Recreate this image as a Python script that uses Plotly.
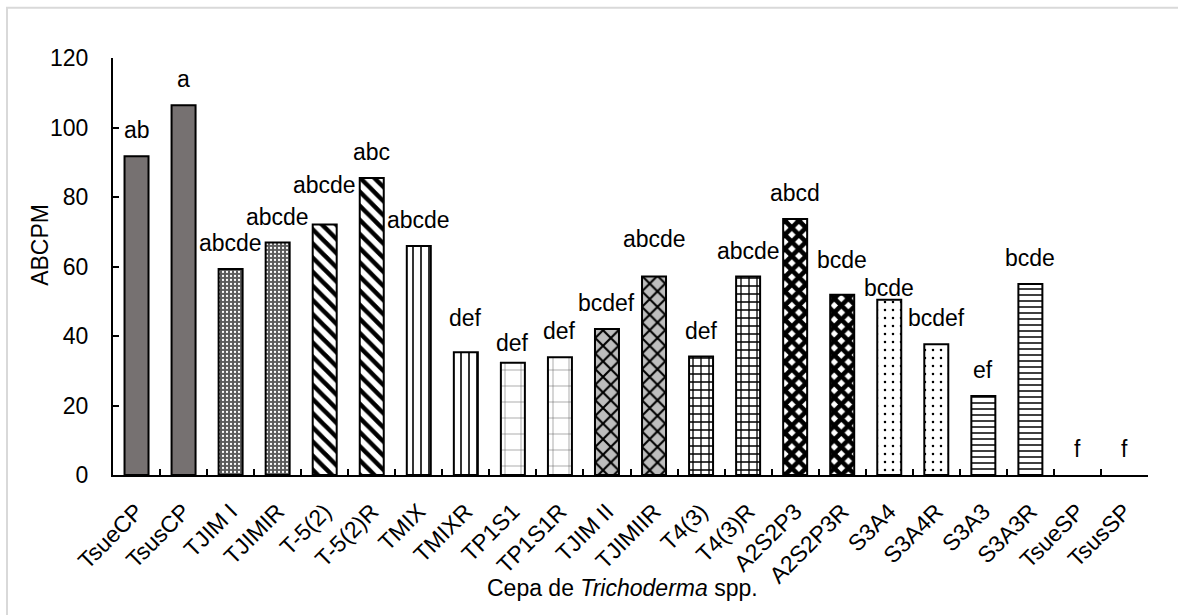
import plotly.graph_objects as go

# Trichoderma strains and their ABCPM values
strains = ["TsueCP", "TsusCP", "TJIM I", "TJIMIR", "T-5(2)", "T-5(2)R", "TMIX", "TMIXR",
           "TP1S1", "TP1S1R", "TJIM II", "TJIMIIR", "T4(3)", "T4(3)R", "A2S2P3", "A2S2P3R",
           "S3A4", "S3A4R", "S3A3", "S3A3R", "TsueSP", "TsusSP"]
abcpm = [91.7, 106.4, 59.3, 66.9, 72.1, 85.5, 65.9, 35.3,
         32.3, 33.9, 42.0, 57.1, 34.1, 57.1, 73.7, 51.9,
         50.4, 37.6, 22.7, 55.0, 0.0, 0.0]
groups = ["ab", "a", "abcde", "abcde", "abcde", "abc", "abcde", "def",
          "def", "def", "bcdef", "abcde", "def", "abcde", "abcd", "bcde",
          "bcde", "bcdef", "ef", "bcde", "f", "f"]

# gap in pixels between bar top and its letter label
label_gap = [17, 17, 17, 17, 30, 17, 17, 25, 11, 17, 17, 29, 17, 17, 17, 26, 3, 17, 17, 17, 17, 17]

FONT = "Liberation Sans, Arial, sans-serif"
FS = 23

# fill styles for each pair of strains
def style(kind):
    if kind == "solid":
        return dict(color="#767171")
    if kind == "stipple":
        return dict(color="#ffffff", pattern=dict(shape=".", bgcolor="#5a5a5a", fgcolor="#ffffff",
                                                  size=4, solidity=0.25, fillmode="replace"))
    if kind == "wdiag":
        return dict(color="#ffffff", pattern=dict(shape="\\", bgcolor="#ffffff", fgcolor="#000000",
                                                  size=10, solidity=0.45, fillmode="replace"))
    if kind == "vert":
        return dict(color="#ffffff", pattern=dict(shape="|", bgcolor="#ffffff", fgcolor="#000000",
                                                  size=8, solidity=0.2, fillmode="replace"))
    if kind == "dgrid":
        return dict(color="#ffffff", pattern=dict(shape="+", bgcolor="#ffffff", fgcolor="#555555",
                                                  size=16, solidity=0.06, fillmode="replace"))
    if kind == "check":
        return dict(color="#ffffff", pattern=dict(shape="x", bgcolor="#bdbdbd", fgcolor="#000000",
                                                  size=11, solidity=0.35, fillmode="replace"))
    if kind == "brick":
        return dict(color="#ffffff", pattern=dict(shape="+", bgcolor="#ffffff", fgcolor="#000000",
                                                  size=8, solidity=0.3, fillmode="replace"))
    if kind == "diamond":
        return dict(color="#ffffff", pattern=dict(shape="x", bgcolor="#ffffff", fgcolor="#000000",
                                                  size=10, solidity=0.7, fillmode="replace"))
    if kind == "dots":
        return dict(color="#ffffff", pattern=dict(shape=".", bgcolor="#ffffff", fgcolor="#000000",
                                                  size=8, solidity=0.08, fillmode="replace"))
    if kind == "horiz":
        return dict(color="#ffffff", pattern=dict(shape="-", bgcolor="#ffffff", fgcolor="#000000",
                                                  size=6, solidity=0.25, fillmode="replace"))
    return dict(color="#ffffff")

kinds = ["solid", "solid", "stipple", "stipple", "wdiag", "wdiag", "vert", "vert",
         "dgrid", "dgrid", "check", "check", "brick", "brick", "diamond", "diamond",
         "dots", "dots", "horiz", "horiz", "none", "none"]

fig = go.Figure()
for name, val, kind in zip(strains, abcpm, kinds):
    m = style(kind)
    # empty bars (value 0) get no outline
    m["line"] = dict(color="#000000", width=2 if val > 0 else 0)
    fig.add_trace(go.Bar(x=[name], y=[val], marker=m, width=0.51, showlegend=False))

for name, val, g, gap in zip(strains, abcpm, groups, label_gap):
    fig.add_annotation(x=name, y=val, xref="x", yref="y", text=g, showarrow=False,
                       yanchor="bottom", yshift=gap - 6,
                       font=dict(family=FONT, size=FS, color="#000000"))

# axis titles
fig.add_annotation(x=0.492, y=-0.271, xref="paper", yref="paper", showarrow=False,
                   text="Cepa de <i>Trichoderma</i> spp.", yanchor="middle",
                   font=dict(family=FONT, size=FS, color="#000000"))
fig.add_annotation(x=-0.0705, y=0.552, xref="paper", yref="paper", showarrow=False,
                   text="ABCPM", textangle=-90, xanchor="center", yanchor="middle",
                   font=dict(family=FONT, size=FS, color="#000000"))

# light frame around the chart
fig.add_shape(type="rect", xref="paper", yref="paper",
              x0=-106 / 1035, x1=1.2, y0=-0.5, y1=(475 - 8) / 416.7,
              line=dict(color="#d9d9d9", width=2), layer="below")

fig.update_layout(
    width=1178, height=615,
    margin=dict(l=113, r=30, t=58, b=140),
    plot_bgcolor="#ffffff", paper_bgcolor="#ffffff",
    barmode="overlay", bargap=0.49,
    font=dict(family=FONT, size=FS, color="#000000"),
)
fig.update_xaxes(type="category", categoryorder="array", categoryarray=strains,
                 showline=True, linecolor="#000000", linewidth=2,
                 ticks="inside", tickson="boundaries", ticklen=6, tickwidth=2, tickcolor="#000000",
                 tickangle=-45, ticklabelstandoff=12, showgrid=False, zeroline=False,
                 tickfont=dict(family=FONT, size=FS, color="#000000"))
fig.update_yaxes(range=[0, 120], dtick=20, showline=True, linecolor="#000000", linewidth=2,
                 ticks="inside", ticklen=6, tickwidth=2, tickcolor="#000000",
                 ticklabelstandoff=18, showgrid=False, zeroline=False,
                 tickfont=dict(family=FONT, size=FS, color="#000000"))

fig.write_html("out.html")
